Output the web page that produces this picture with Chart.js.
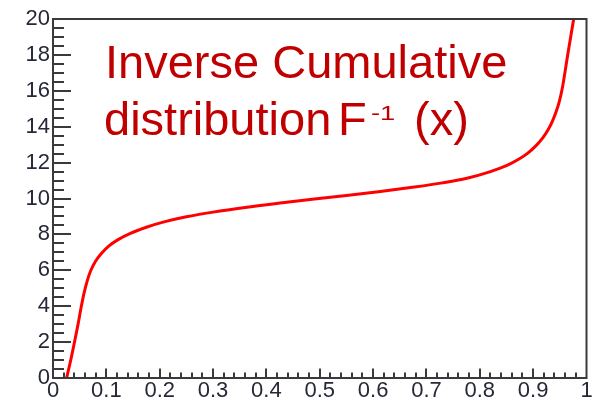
<!DOCTYPE html>
<html>
<head>
<meta charset="utf-8">
<script src="https://cdn.jsdelivr.net/npm/chart.js@4/dist/chart.umd.min.js"></script>
<style>
  html, body { margin: 0; padding: 0; background: #ffffff; }
  #wrap { width: 600px; height: 397px; position: relative; }
</style>
</head>
<body>
<div id="wrap"><canvas id="c" width="600" height="397"></canvas></div>
<script>
// Probability x on the horizontal axis, quantile F^-1(x) on the vertical axis
const probability = [
  0.0255, 0.034, 0.041, 0.047, 0.0525, 0.058, 0.064, 0.071, 0.080, 0.091,
  0.105, 0.122, 0.145, 0.175, 0.210, 0.250, 0.300, 0.360, 0.430, 0.490,
  0.550, 0.610, 0.670, 0.730, 0.776, 0.820, 0.850, 0.872, 0.890, 0.905,
  0.918, 0.928, 0.936, 0.943, 0.949, 0.955, 0.960, 0.965, 0.9705, 0.976
];
const quantile = [
  0.0, 1.1, 2.1, 3.0, 3.9, 4.7, 5.4, 6.0, 6.52, 6.95,
  7.36, 7.71, 8.06, 8.40, 8.71, 8.98, 9.24, 9.50, 9.76, 9.97,
  10.17, 10.38, 10.61, 10.87, 11.13, 11.5, 11.83, 12.17, 12.53, 12.93,
  13.38, 13.83, 14.3, 14.83, 15.4, 16.2, 17.1, 18.05, 19.03, 20.0
];
const xTickLabels = ['0', '0.1', '0.2', '0.3', '0.4', '0.5', '0.6', '0.7', '0.8', '0.9', '1'];
const yTickLabels = ['0', '2', '4', '6', '8', '10', '12', '14', '16', '18', '20'];
const captionLine1 = 'Inverse Cumulative';
const captionWord = 'distribution';
const captionSymbol = 'F';
const captionExponent = '-1';
const captionArgument = '(x)';

const points = probability.map((x, i) => ({ x: x, y: quantile[i] }));

// Frame with inward-pointing major and minor ticks
const framePlugin = {
  id: 'frame',
  afterDatasetsDraw(chart) {
    const { ctx, chartArea: a, scales } = chart;
    const xs = scales.x, ys = scales.y;
    ctx.save();
    ctx.strokeStyle = '#3a3a3a';
    ctx.lineWidth = 2;
    ctx.strokeRect(a.left, a.top, a.right - a.left, a.bottom - a.top);

    ctx.beginPath();
    // x axis: major every 0.1, minor every 0.02
    for (let i = 1; i < 50; i++) {
      const px = Math.round(xs.getPixelForValue(i * 0.02));
      const len = (i % 5 === 0) ? 9.5 : 5.5;
      ctx.moveTo(px, a.bottom);
      ctx.lineTo(px, a.bottom - len);
    }
    // y axis: major every 2, minor every 0.5
    for (let i = 1; i < 40; i++) {
      const py = Math.round(ys.getPixelForValue(i * 0.5));
      const len = (i % 4 === 0) ? 18 : 11;
      ctx.moveTo(a.left, py);
      ctx.lineTo(a.left + len, py);
    }
    ctx.stroke();
    ctx.restore();
  }
};

// Two-line caption with a superscript exponent
const captionPlugin = {
  id: 'caption',
  afterDraw(chart) {
    const ctx = chart.ctx;
    const big = '47px "Liberation Sans", Arial, sans-serif';
    ctx.save();
    ctx.fillStyle = '#c00000';
    ctx.textBaseline = 'alphabetic';
    ctx.textAlign = 'left';
    ctx.font = big;
    ctx.fillText(captionLine1, 105, 78);
    ctx.fillText(captionWord, 104, 135);
    ctx.fillText(captionSymbol, 338, 135);
    ctx.fillText(captionArgument, 414, 135);
    // exponent: smaller, raised and slightly widened
    ctx.save();
    ctx.translate(371, 120);
    ctx.scale(1.3, 1);
    ctx.font = '21px "Liberation Sans", Arial, sans-serif';
    ctx.fillText(captionExponent, 0, 0);
    ctx.restore();
    ctx.restore();
  }
};

new Chart(document.getElementById('c'), {
  type: 'scatter',
  data: {
    datasets: [{
      data: points,
      showLine: true,
      borderColor: '#ff0000',
      backgroundColor: '#ff0000',
      borderWidth: 3,
      pointRadius: 0,
      cubicInterpolationMode: 'monotone',
      fill: false
    }]
  },
  options: {
    responsive: false,
    animation: false,
    layout: { padding: { top: 19, right: 13.5, left: 0, bottom: 0 } },
    plugins: { legend: { display: false }, tooltip: { enabled: false }, title: { display: false } },
    scales: {
      x: {
        type: 'linear', min: 0, max: 1,
        border: { display: false },
        grid: { display: false, drawTicks: false },
        afterFit(scale) { scale.height = 19; },
        afterBuildTicks(scale) {
          scale.ticks = xTickLabels.map(t => ({ value: parseFloat(t) }));
        },
        ticks: {
          autoSkip: false, maxRotation: 0, padding: 0,
          color: '#262838',
          font: { family: '"Liberation Sans", Arial, sans-serif', size: 22 },
          callback: (v, i) => xTickLabels[i]
        }
      },
      y: {
        type: 'linear', min: 0, max: 20,
        border: { display: false },
        grid: { display: false, drawTicks: false },
        afterFit(scale) { scale.width = 53; },
        afterBuildTicks(scale) {
          scale.ticks = yTickLabels.map(t => ({ value: parseFloat(t) }));
        },
        ticks: {
          autoSkip: false, padding: 3,
          color: '#262838',
          font: { family: '"Liberation Sans", Arial, sans-serif', size: 22 },
          callback: (v, i) => yTickLabels[i]
        }
      }
    }
  },
  plugins: [framePlugin, captionPlugin]
});
</script>
</body>
</html>
